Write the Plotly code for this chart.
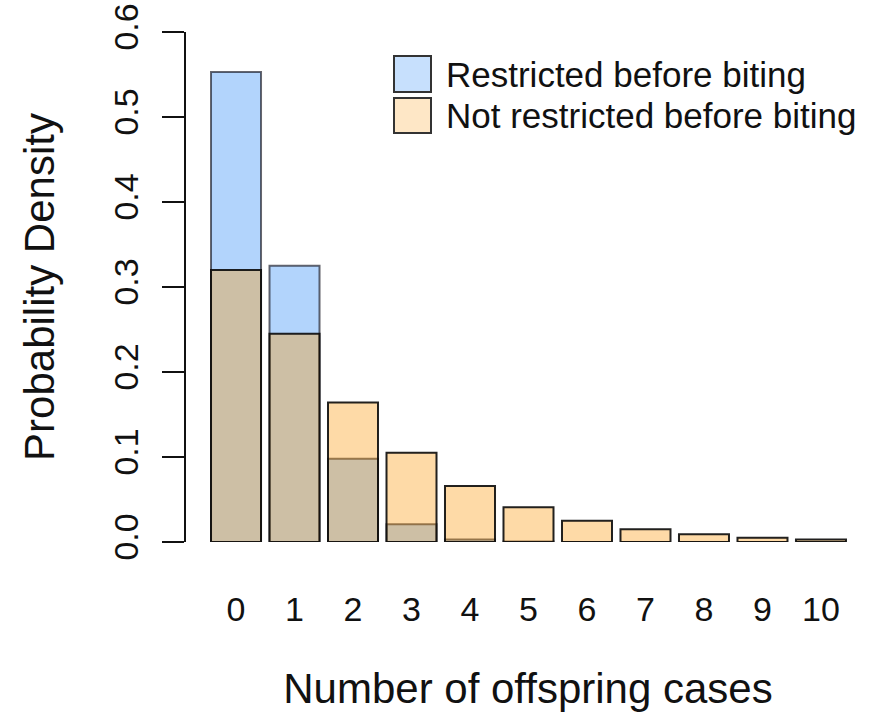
import plotly.graph_objects as go

# Offspring-count distribution under the two restriction scenarios
offspring = list(range(11))
tick_labels = [str(k) for k in offspring]
restricted = [0.553, 0.325, 0.098, 0.021, 0.003, 0.0005, 0.0, 0.0, 0.0, 0.0, 0.0]
not_restricted = [0.320, 0.245, 0.164, 0.105, 0.066, 0.041, 0.025, 0.015, 0.009, 0.005, 0.003]
series_names = ["Restricted before biting", "Not restricted before biting"]
y_ticks = [0.0, 0.1, 0.2, 0.3, 0.4, 0.5, 0.6]

FONT = "Liberation Sans, Arial, Helvetica, sans-serif"
BLUE_FILL = "rgba(0,112,245,0.30)"
ORANGE_FILL = "rgba(252,155,15,0.37)"
BLUE_LEGEND = "rgba(0,112,245,0.22)"
ORANGE_LEGEND = "rgba(252,155,15,0.24)"
BAR_W = 0.855

fig = go.Figure()
fig.add_trace(go.Bar(
    x=offspring, y=restricted, width=BAR_W, name=series_names[0],
    marker=dict(color=BLUE_FILL, line=dict(color="rgba(20,20,30,0.65)", width=2)),
    showlegend=False,
))
fig.add_trace(go.Bar(
    x=offspring, y=not_restricted, width=BAR_W, name=series_names[1],
    marker=dict(color=ORANGE_FILL, line=dict(color="rgba(10,10,10,0.9)", width=2)),
    showlegend=False,
))

# Legend drawn as framed swatches with labels beside them
legend_rows = [(series_names[0], BLUE_LEGEND, 56, 92), (series_names[1], ORANGE_LEGEND, 98, 133)]
for label, fill, y0, y1 in legend_rows:
    fig.add_shape(type="rect", xref="paper", yref="paper",
                  x0=(394 - 186) / (870 - 186), x1=(431 - 186) / (870 - 186),
                  y0=(542 - y1) / (542 - 32), y1=(542 - y0) / (542 - 32),
                  fillcolor=fill, line=dict(color="#333333", width=2))
    fig.add_annotation(xref="paper", yref="paper",
                       x=(444 - 186) / (870 - 186), y=(542 - (y0 + y1) / 2) / (542 - 32),
                       xanchor="left", yanchor="middle", text=label, showarrow=False,
                       font=dict(family=FONT, size=35, color="#111111"))

fig.update_layout(
    width=870, height=712,
    margin=dict(l=186, r=0, t=32, b=170),
    barmode="overlay",
    plot_bgcolor="white", paper_bgcolor="white",
    font=dict(family=FONT, color="#111111"),
    xaxis=dict(
        range=[-0.855, 10.838], tickmode="array", tickvals=offspring, ticktext=tick_labels,
        showgrid=False, zeroline=False, showline=False, ticks="",
        tickfont=dict(size=34), ticklabelstandoff=44,
        title=dict(text="Number of offspring cases", font=dict(size=42), standoff=46),
    ),
    yaxis=dict(
        range=[0, 0.6], tickmode="array", tickvals=y_ticks,
        ticktext=[f"{v:.1f}" for v in y_ticks],
        showgrid=False, zeroline=False, showline=True, linecolor="#111111", linewidth=2,
        ticks="outside", ticklen=22, tickwidth=2, tickcolor="#111111",
        tickangle=-90, tickfont=dict(size=34), ticklabelstandoff=10,
        title=dict(text="Probability Density", font=dict(size=42), standoff=40),
    ),
)

fig.write_html("out.html")
